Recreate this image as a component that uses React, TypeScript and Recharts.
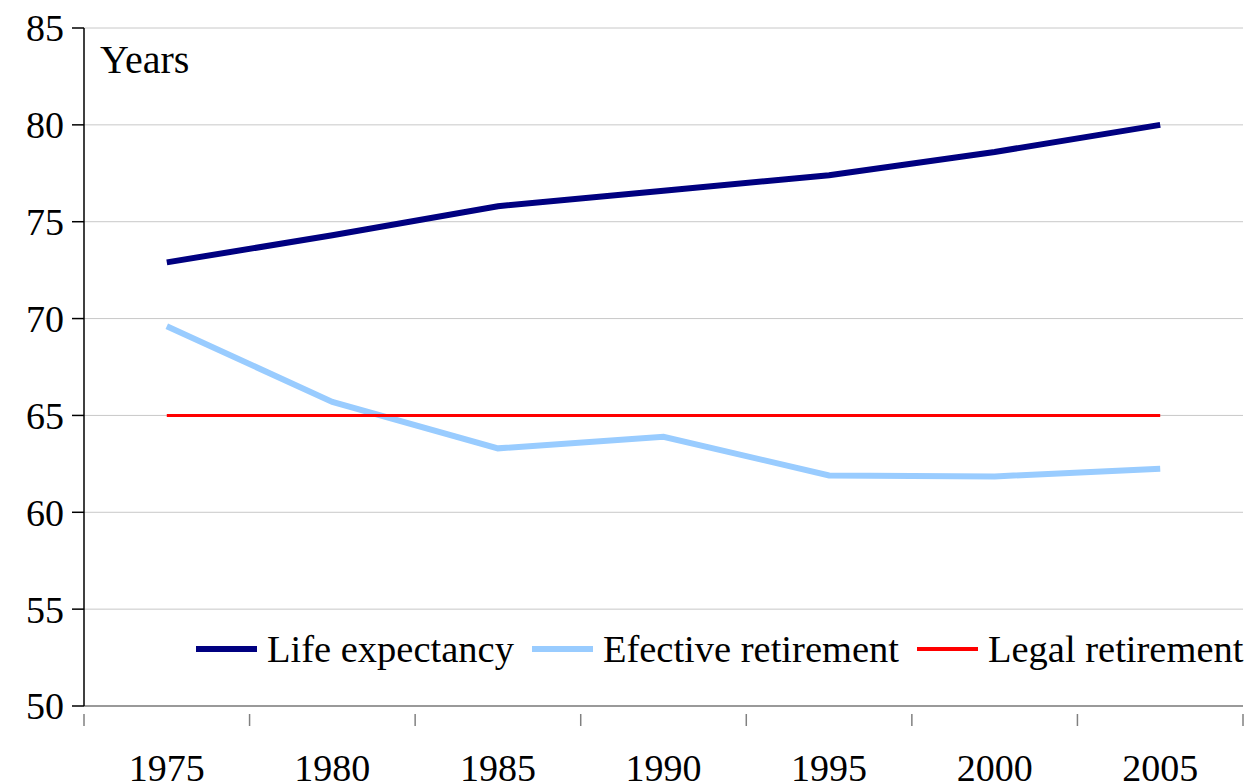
import { CartesianGrid, Legend, Line, LineChart, XAxis, YAxis } from "recharts";

const YEARS = ["1975", "1980", "1985", "1990", "1995", "2000", "2005"];
const LIFE_EXPECTANCY = [72.9, 74.3, 75.8, 76.6, 77.4, 78.6, 80.0];
const EFFECTIVE_RETIREMENT = [69.6, 65.7, 63.3, 63.9, 61.9, 61.85, 62.25];
const LEGAL_RETIREMENT = [65, 65, 65, 65, 65, 65, 65];
const Y_TICKS = [50, 55, 60, 65, 70, 75, 80, 85];
const SERIES_ORDER = ["Life expectancy", "Efective retirement", "Legal retirement"];

const FONT = "'Liberation Serif', 'Times New Roman', serif";

const data = YEARS.map((year, i) => ({
  year,
  life: LIFE_EXPECTANCY[i],
  effective: EFFECTIVE_RETIREMENT[i],
  legal: LEGAL_RETIREMENT[i],
}));

function YearTick(props: any) {
  const { x, y, payload, index } = props;
  const half = payload?.offset ?? 82.8;
  const last = index === YEARS.length - 1;
  return (
    <g>
      <line x1={x - half} x2={x - half} y1={y} y2={y + 12} stroke="#808080" strokeWidth={1.5} />
      {last && <line x1={x + half} x2={x + half} y1={y} y2={y + 12} stroke="#808080" strokeWidth={1.5} />}
      <text x={x} y={781} textAnchor="middle" fontSize={38} fill="#000" fontFamily={FONT}>
        {payload.value}
      </text>
    </g>
  );
}

function LegendRow({ payload }: any) {
  const items = [...(payload || [])].sort(
    (a: any, b: any) => SERIES_ORDER.indexOf(a.value) - SERIES_ORDER.indexOf(b.value)
  );
  return (
    <div style={{ display: "flex", alignItems: "center", fontFamily: FONT, fontSize: 38.5, whiteSpace: "nowrap" }}>
      {items.map((p: any) => (
        <div key={p.value} style={{ display: "flex", alignItems: "center", marginRight: 18 }}>
          <span
            style={{
              display: "inline-block",
              width: 61,
              height: p.dataKey === "legal" ? 4 : 6,
              background: p.color,
              marginRight: 10,
            }}
          />
          <span style={{ color: "#000" }}>{p.value}</span>
        </div>
      ))}
    </div>
  );
}

export default function App() {
  return (
    <div style={{ position: "absolute", left: 0, top: 0, width: 1256, height: 784, background: "#fff" }}>
      <LineChart width={1256} height={784} data={data} margin={{ top: 28, right: 13, left: 0, bottom: 0 }}>
        <CartesianGrid horizontal vertical={false} stroke="#c8c8c8" />
        <XAxis
          dataKey="year"
          scale="band"
          height={78}
          axisLine={{ stroke: "#808080", strokeWidth: 1.5 }}
          tickLine={false}
          tick={<YearTick />}
          interval={0}
        />
        <YAxis
          domain={[50, 85]}
          ticks={Y_TICKS}
          width={84}
          tickSize={12}
          tickMargin={8}
          axisLine={{ stroke: "#000", strokeWidth: 1.5 }}
          tickLine={{ stroke: "#000", strokeWidth: 1.5 }}
          tick={{ fontSize: 38, fill: "#000", fontFamily: FONT }}
          allowDataOverflow
        />
        <Legend
          layout="horizontal"
          verticalAlign="middle"
          align="center"
          content={<LegendRow />}
          wrapperStyle={{ top: 627, left: 196, width: "auto", right: "auto" }}
        />
        <Line
          dataKey="life"
          name="Life expectancy"
          stroke="#000080"
          strokeWidth={6}
          dot={false}
          activeDot={false}
          isAnimationActive={false}
        />
        <Line
          dataKey="effective"
          name="Efective retirement"
          stroke="#99ccff"
          strokeWidth={6}
          dot={false}
          activeDot={false}
          isAnimationActive={false}
        />
        <Line
          dataKey="legal"
          name="Legal retirement"
          stroke="#ff0000"
          strokeWidth={3}
          dot={false}
          activeDot={false}
          isAnimationActive={false}
        />
      </LineChart>
      <div
        style={{
          position: "absolute",
          left: 100,
          top: 38,
          fontFamily: FONT,
          fontSize: 40,
          lineHeight: "44px",
          color: "#000",
        }}
      >
        Years
      </div>
    </div>
  );
}
